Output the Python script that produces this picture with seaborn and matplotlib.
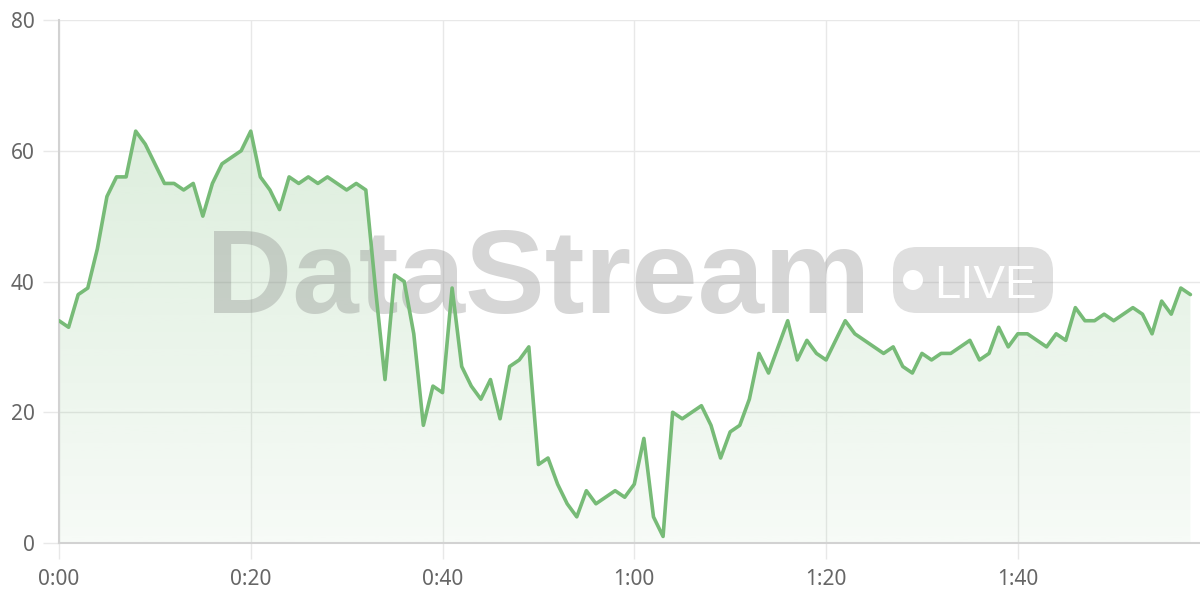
import numpy as np
import pandas as pd
import matplotlib.pyplot as plt
import matplotlib.colors as mcolors
import seaborn as sns
from matplotlib.patches import FancyBboxPatch, Ellipse

# Data (one value per second)
seconds = list(range(119))
values = [
    34, 33, 38, 39, 45, 53, 56, 56, 63, 61,
    58, 55, 55, 54, 55, 50, 55, 58, 59, 60,
    63, 56, 54, 51, 56, 55, 56, 55, 56, 55,
    54, 55, 54, 39, 25, 41, 40, 32, 18, 24,
    23, 39, 27, 24, 22, 25, 19, 27, 28, 30,
    12, 13, 9, 6, 4, 8, 6, 7, 8, 7,
    9, 16, 4, 1, 20, 19, 20, 21, 18, 13,
    17, 18, 22, 29, 26, 30, 34, 28, 31, 29,
    28, 31, 34, 32, 31, 30, 29, 30, 27, 26,
    29, 28, 29, 29, 30, 31, 28, 29, 33, 30,
    32, 32, 31, 30, 32, 31, 36, 34, 34, 35,
    34, 35, 36, 35, 32, 37, 35, 39, 38,
]
x_ticks = [0, 20, 40, 60, 80, 100]
x_tick_labels = ["0:00", "0:20", "0:40", "1:00", "1:20", "1:40"]
y_ticks = [0, 20, 40, 60, 80]

df = pd.DataFrame({"t": seconds, "value": values})

sns.set_theme(style="whitegrid")
plt.rcParams["font.family"] = ["Noto Sans", "DejaVu Sans"]

line_color = "#77bb77"
grid_color = "#e8e8e8"

fig = plt.figure(figsize=(12, 6), dpi=100)
ax = fig.add_axes([59 / 1200, 57 / 600, 1141 / 1200, 523 / 600])

sns.lineplot(data=df, x="t", y="value", ax=ax, color=line_color,
             linewidth=2.6, zorder=5)

# gradient fill under the line
poly = ax.fill_between(df["t"], df["value"], 0, facecolor="none", edgecolor="none")
n = 256
rgba = np.zeros((n, 1, 4))
rgba[..., :3] = mcolors.to_rgb(line_color)
rgba[:, 0, 3] = np.linspace(0.06, 0.30, n)
img = ax.imshow(rgba, extent=[0, 119, 0, 80], origin="lower", aspect="auto", zorder=1)
img.set_clip_path(poly.get_paths()[0], transform=ax.transData)

ax.set_xticks(x_ticks)
ax.set_xticklabels(x_tick_labels)
ax.set_yticks(y_ticks)
ax.set_xlabel("")
ax.set_ylabel("")

ax.set_axisbelow(True)
ax.grid(True, color=grid_color, linewidth=1)
ax.tick_params(bottom=True, left=True, length=11.5, width=1, color=grid_color,
               labelcolor="#666666", labelsize=15)
ax.tick_params(axis="y", pad=6)
ax.tick_params(axis="x", pad=7)
for side in ["top", "right"]:
    ax.spines[side].set_visible(False)
for side in ["left", "bottom"]:
    ax.spines[side].set_color("#d2d2d2")
    ax.spines[side].set_linewidth(1.5)

# watermark
wm = "#808080"
ax.text(538 / 1200, 1 - 313 / 600, "DataStream", transform=fig.transFigure,
        ha="center", va="baseline", fontsize=86, fontweight="bold",
        family=["Liberation Sans", "DejaVu Sans"], color=wm, alpha=0.32, zorder=3)
badge = FancyBboxPatch((893 / 1200, 1 - 313 / 600), 160 / 1200, 66 / 600,
                       boxstyle="round,pad=0,rounding_size=0.02", mutation_aspect=2,
                       facecolor=wm, edgecolor="none", alpha=0.25,
                       transform=fig.transFigure, zorder=3)
ax.add_patch(badge)
ax.add_patch(Ellipse((913 / 1200, 1 - 280 / 600), 20 / 1200, 20 / 600,
                     facecolor="white", edgecolor="none",
                     transform=fig.transFigure, zorder=3.5))
ax.text(985 / 1200, 1 - 298 / 600, "LIVE", transform=fig.transFigure,
        ha="center", va="baseline", fontsize=34,
        family=["Liberation Sans", "DejaVu Sans"], color="white", zorder=3.5)

ax.set_xlim(0, 119)
ax.set_ylim(0, 80)

fig.savefig("out.png", dpi=100)
